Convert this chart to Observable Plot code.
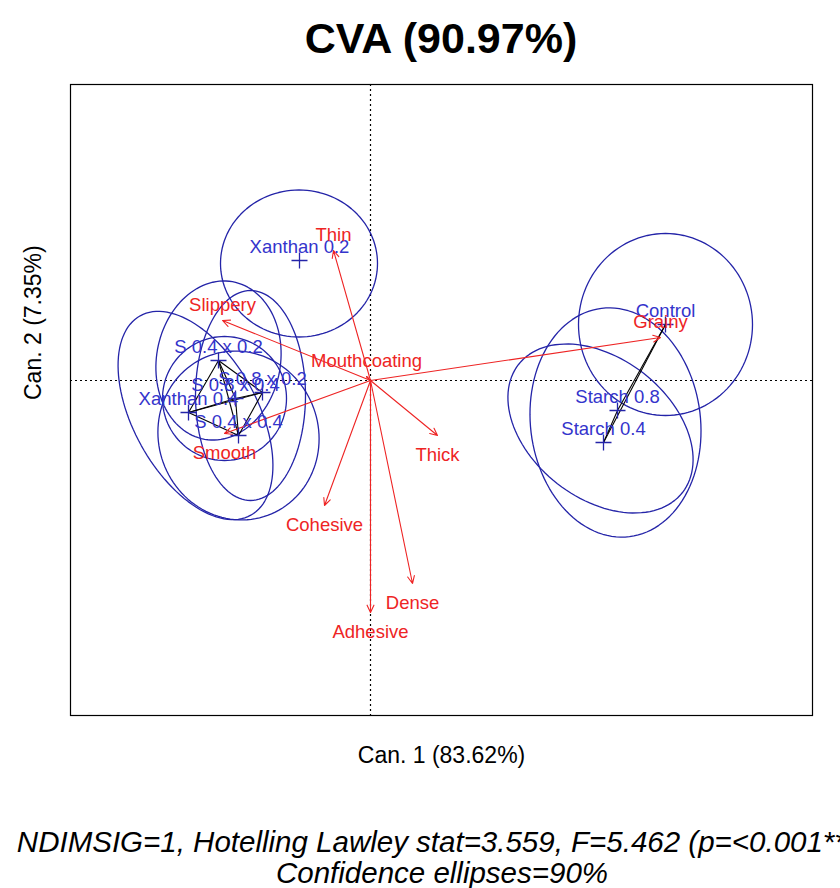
<!DOCTYPE html>
<html>
<head>
<meta charset="utf-8">
<script src="https://cdn.jsdelivr.net/npm/d3@7"></script>
<script src="https://cdn.jsdelivr.net/npm/@observablehq/plot@0.6"></script>
<style>
  html, body { margin: 0; padding: 0; background: #fff; overflow: hidden; width: 840px; height: 888px; }
  body { font-family: "Liberation Sans", Arial, sans-serif; }
  #title { width: 882px; height: 70px; line-height: 76px; text-align: center; font-weight: bold; font-size: 43px; color: #000; white-space: nowrap; }
  #chart svg { display: block; }
  #caption { width: 884px; margin-top: 36px; text-align: center; font-style: italic; font-size: 29.5px; line-height: 31px; color: #000; white-space: nowrap; }
</style>
</head>
<body>
<div id="title">CVA (90.97%)</div>
<div id="chart"></div>
<div id="caption">NDIMSIG=1, Hotelling Lawley stat=3.559, F=5.462 (p=&lt;0.001***)<br>Confidence ellipses=90%</div>
<script>
// ---- Data (canonical scores) ----
const groups = ["Control", "Starch 0.8", "Starch 0.4", "Xanthan 0.2", "S 0.4 x 0.2", "S 0.8 x 0.2", "S 0.8 x 0.4", "Xanthan 0.4", "S 0.4 x 0.4"];
const groupCan1 = [5.90, 4.94, 4.66, -1.42, -3.04, -2.16, -2.70, -3.64, -2.64];
const groupCan2 = [1.12, -0.60, -1.24, 2.40, 0.40, -0.24, -0.36, -0.64, -1.10];

// confidence ellipses (centre, semi-axes, rotation in degrees)
const ellCx    = [5.90, 4.90, 4.60, -1.43, -3.04, -2.40, -2.92, -3.50, -2.64];
const ellCy    = [1.12, -0.84, -0.96, 2.34, 0.40, -0.30, -0.36, -0.70, -1.10];
const ellRx    = [1.74, 1.70, 2.08, 1.57, 1.24, 1.10, 1.24, 2.28, 1.60];
const ellRy    = [1.82, 2.30, 1.40, 1.47, 1.60, 2.10, 1.24, 1.24, 1.70];
const ellAngle = [0, 7, -38, 0, -10, 0, 0, -61, 20];

// attribute vectors
const attributes = ["Thin", "Slippery", "Mouthcoating", "Grainy", "Smooth", "Thick", "Cohesive", "Dense", "Adhesive"];
const attrCan1 = [-0.74, -2.96, -0.08, 5.80, -2.92, 1.34, -0.92, 0.84, 0.00];
const attrCan2 = [2.60, 1.20, 0.08, 0.86, -1.06, -1.10, -2.50, -4.06, -4.64];

// pairs of groups joined (not significantly different)
const pairFrom = ["Control", "Starch 0.8", "Control", "S 0.4 x 0.2", "S 0.4 x 0.2", "S 0.4 x 0.2", "S 0.4 x 0.2", "S 0.8 x 0.2", "S 0.8 x 0.2", "S 0.8 x 0.2", "S 0.8 x 0.4", "S 0.8 x 0.4", "Xanthan 0.4"];
const pairTo   = ["Starch 0.8", "Starch 0.4", "Starch 0.4", "S 0.8 x 0.2", "S 0.8 x 0.4", "Xanthan 0.4", "S 0.4 x 0.4", "S 0.8 x 0.4", "Xanthan 0.4", "S 0.4 x 0.4", "Xanthan 0.4", "S 0.4 x 0.4", "S 0.4 x 0.4"];

// ---- Build tables ----
const means = groups.map((g, i) => ({name: g, x: groupCan1[i], y: groupCan2[i]}));
const meanOf = Object.fromEntries(means.map(d => [d.name, d]));
const vectors = attributes.map((a, i) => ({name: a, x: attrCan1[i], y: attrCan2[i]}));
const links = pairFrom.map((f, i) => ({x1: meanOf[f].x, y1: meanOf[f].y, x2: meanOf[pairTo[i]].x, y2: meanOf[pairTo[i]].y}));

const ellPts = [];
groups.forEach((g, i) => {
  const a = ellAngle[i] * Math.PI / 180;
  for (let k = 0; k <= 120; k++) {
    const t = 2 * Math.PI * k / 120;
    const ex = ellRx[i] * Math.cos(t), ey = ellRy[i] * Math.sin(t);
    ellPts.push({g, x: ellCx[i] + ex * Math.cos(a) - ey * Math.sin(a), y: ellCy[i] + ex * Math.sin(a) + ey * Math.cos(a)});
  }
});

const plusSymbol = {
  draw(ctx, size) {
    const r = Math.sqrt(size / Math.PI);
    ctx.moveTo(-r, 0); ctx.lineTo(r, 0);
    ctx.moveTo(0, -r); ctx.lineTo(0, r);
  }
};

const BLUE = "#2424a8", BLUE_TXT = "#3434cc", RED = "#ee2424";

const chart = Plot.plot({
  width: 840,
  height: 720,
  marginTop: 14,
  marginBottom: 75,
  marginLeft: 70,
  marginRight: 28,
  style: {fontFamily: "'Liberation Sans', Arial, sans-serif", background: "white"},
  x: {domain: [-6, 8.84], axis: null},
  y: {domain: [-6.7, 5.92], axis: null},
  marks: [
    Plot.ruleX([0], {stroke: "black", strokeDasharray: "2,3", strokeWidth: 1.2}),
    Plot.ruleY([0], {stroke: "black", strokeDasharray: "2,3", strokeWidth: 1.2}),
    Plot.line(ellPts, {x: "x", y: "y", z: "g", stroke: BLUE, strokeWidth: 1.3}),
    Plot.link(links, {x1: "x1", y1: "y1", x2: "x2", y2: "y2", stroke: "black", strokeWidth: 1.1}),
    Plot.arrow(vectors, {x1: d => 0, y1: d => 0, x2: "x", y2: "y", stroke: RED, strokeWidth: 1.1, headLength: 11, headAngle: 50}),
    Plot.dot(means, {x: "x", y: "y", symbol: plusSymbol, r: 8, stroke: BLUE, fill: "none", strokeWidth: 1.3}),
    Plot.text(means, {x: "x", y: "y", text: "name", dy: -13, fill: BLUE_TXT, fontSize: 18.5}),
    Plot.text(vectors, {filter: d => d.y >= 0, x: "x", y: "y", text: "name", dy: -15, fill: RED, fontSize: 18.5}),
    Plot.text(vectors, {filter: d => d.y < 0, x: "x", y: "y", text: "name", dy: 20, fill: RED, fontSize: 18.5}),
    Plot.text(["Can. 1 (83.62%)"], {frameAnchor: "bottom", dy: 47, fontSize: 23, fill: "black"}),
    Plot.text(["Can. 2 (7.35%)"], {frameAnchor: "left", dx: -37, rotate: -90, fontSize: 23, fill: "black"}),
    Plot.frame({stroke: "black", strokeWidth: 1.2})
  ]
});
document.getElementById("chart").appendChild(chart);
</script>
</body>
</html>
